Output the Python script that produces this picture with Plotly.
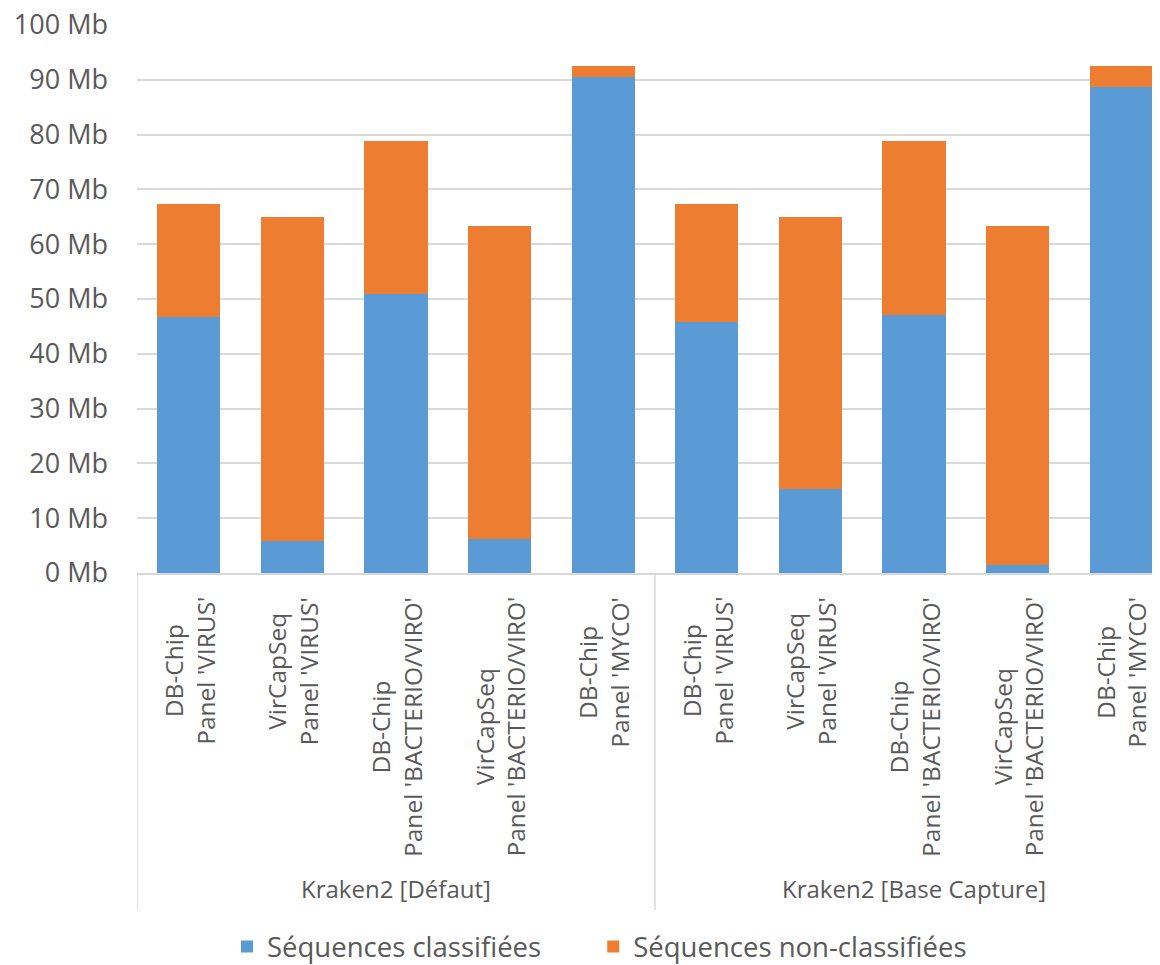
import plotly.graph_objects as go

groups = ["Kraken2 [Défaut]", "Kraken2 [Base Capture]"]
line1 = ["DB-Chip", "VirCapSeq", "DB-Chip", "VirCapSeq", "DB-Chip",
         "DB-Chip", "VirCapSeq", "DB-Chip", "VirCapSeq", "DB-Chip"]
line2 = ["Panel 'VIRUS'", "Panel 'VIRUS'", "Panel 'BACTERIO/VIRO'", "Panel 'BACTERIO/VIRO'", "Panel 'MYCO'",
         "Panel 'VIRUS'", "Panel 'VIRUS'", "Panel 'BACTERIO/VIRO'", "Panel 'BACTERIO/VIRO'", "Panel 'MYCO'"]
group_of = [0, 0, 0, 0, 0, 1, 1, 1, 1, 1]
classified = [46.7, 5.8, 50.9, 6.2, 90.5, 45.8, 15.3, 47.1, 1.5, 88.7]
unclassified = [20.6, 59.2, 27.9, 57.1, 2.0, 21.5, 49.7, 31.7, 61.8, 3.8]
series_names = ["Séquences classifiées", "Séquences non-classifiées"]
yticks = [0, 10, 20, 30, 40, 50, 60, 70, 80, 90, 100]
ytick_text = [f"{v} Mb" for v in yticks]

FONT = "Open Sans"
GREY = "#595959"
x = list(range(len(line1)))

fig = go.Figure()
fig.add_trace(go.Bar(x=x, y=classified, name=series_names[0], legend="legend",
                     marker=dict(color="#5B9BD5", line=dict(width=0))))
fig.add_trace(go.Bar(x=x, y=unclassified, name=series_names[1], legend="legend2",
                     marker=dict(color="#ED7D31", line=dict(width=0))))

annotations = []
for i in x:
    annotations.append(dict(
        x=i, xref="x", y=0, yref="y", yshift=-22,
        text=f"{line1[i]}<br>{line2[i]}", showarrow=False,
        textangle=-90, xanchor="center", yanchor="top", align="center",
        font=dict(family=FONT, size=24.5, color=GREY)))
for g, name in enumerate(groups):
    idx = [i for i in x if group_of[i] == g]
    annotations.append(dict(
        x=(idx[0] + idx[-1]) / 2, xref="x", y=-0.575, yref="paper",
        text=name, showarrow=False, xanchor="center", yanchor="middle",
        font=dict(family=FONT, size=24, color=GREY)))

shapes = []
bounds = [-0.5] + [i + 0.5 for i in range(len(x) - 1) if group_of[i] != group_of[i + 1]]
for b in bounds:
    shapes.append(dict(type="line", xref="x", yref="paper", x0=b, x1=b, y0=0, y1=-0.615,
                       line=dict(color="#d9d9d9", width=1.5)))

legend_style = dict(orientation="h", xanchor="left", y=-0.682, yanchor="middle",
                    font=dict(family=FONT, size=27.5, color=GREY), bgcolor="rgba(0,0,0,0)")

fig.update_layout(
    barmode="stack",
    bargap=0.39,
    width=1152, height=957,
    margin=dict(l=129, r=0, t=17, b=392, autoexpand=False),
    plot_bgcolor="white", paper_bgcolor="white",
    font=dict(family=FONT, color=GREY),
    showlegend=True,
    legend=dict(x=0.088, **legend_style),
    legend2=dict(x=0.446, **legend_style),
    annotations=annotations,
    shapes=shapes,
)
fig.update_xaxes(range=[-0.5, 9.375], showticklabels=False, showgrid=False, automargin=False,
                 showline=True, linecolor="#d9d9d9", linewidth=2, ticks="", zeroline=False)
fig.update_yaxes(range=[0, 100], tickmode="array", tickvals=yticks, ticktext=ytick_text,
                 showgrid=True, gridcolor="#d9d9d9", gridwidth=1.5, zeroline=False, automargin=False,
                 showline=False, ticks="", ticklabelstandoff=28, ticklabeloverflow="allow",
                 tickfont=dict(family=FONT, size=27, color=GREY))

fig.write_html("out.html")
